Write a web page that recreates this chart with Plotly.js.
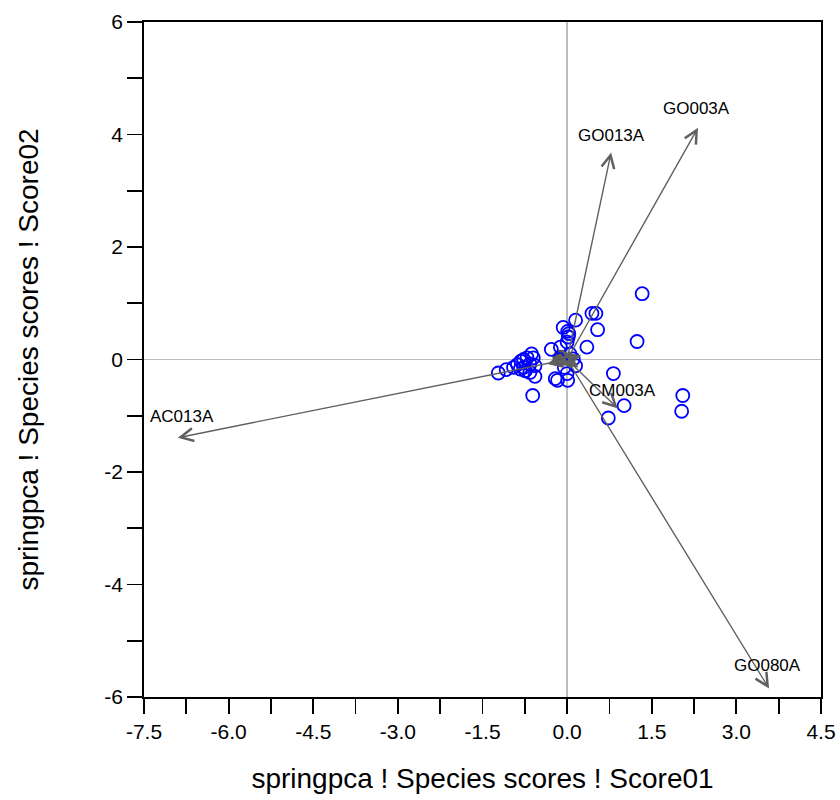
<!DOCTYPE html>
<html>
<head>
<meta charset="utf-8">
<script src="https://cdn.plot.ly/plotly-3.0.1.min.js"></script>
<style>html,body{margin:0;padding:0;background:#fff;}#chart{width:840px;height:800px;}</style>
</head>
<body>
<div id="chart"></div>
<script>
// Sample scores (Score01, Score02)
const sampleX = [1.33, 1.24, 0.44, 0.51, 0.54, 0.15, 0.35, -0.07, 0.01, 0.03, 0.02, 0.00,
  -0.28, -0.12, 0.15, 0.82, 1.01, 0.73, 2.05, 2.03, -0.61, -0.21, -0.17, 0.00, 0.01, -0.05,
  -1.22, -1.08, -0.95, -0.88, -0.82, -0.77, -0.71, -0.63, -0.60, -0.66, -0.77, -0.74, -0.66,
  -0.57, -0.83, -0.57, 0.11, 0.05];
const sampleY = [1.17, 0.32, 0.82, 0.82, 0.53, 0.70, 0.22, 0.57, 0.50, 0.46, 0.40, 0.31,
  0.18, 0.22, -0.11, -0.25, -0.82, -1.04, -0.64, -0.92, -0.64, -0.34, -0.37, -0.25, -0.37, -0.14,
  -0.24, -0.18, -0.14, -0.09, -0.03, 0.00, 0.03, 0.10, 0.03, -0.08, -0.14, -0.20, -0.23,
  -0.30, -0.17, -0.11, 0.01, 0.10];

// Species vectors (labelled)
const speciesNames = ["AC013A", "GO013A", "GO003A", "CM003A", "GO080A"];
const speciesX = [-6.90, 0.78, 2.32, 0.90, 3.58];
const speciesY = [-1.39, 3.68, 4.12, -0.87, -5.85];
const labelX = [-6.83, 0.79, 2.30, 0.99, 3.56];
const labelY = [-1.01, 3.98, 4.46, -0.55, -5.44];

// Short unlabelled species vectors near the origin
const minorX = [-0.35, 0.25, 0.20, -0.15, 0.05, 0.12];
const minorY = [-0.08, 0.07, -0.14, 0.05, 0.15, -0.05];

// Centre blob
const centreX = [-0.12];
const centreY = [0.03];

// Tick labels
const xTickVals = [-7.5, -6.0, -4.5, -3.0, -1.5, 0.0, 1.5, 3.0, 4.5];
const xTickText = ["-7.5", "-6.0", "-4.5", "-3.0", "-1.5", "0.0", "1.5", "3.0", "4.5"];
const yTickVals = [-6, -4, -2, 0, 2, 4, 6];
const yTickText = ["-6", "-4", "-2", "0", "2", "4", "6"];

const annotations = [];
function arrow(x, y) {
  annotations.push({
    x: x, y: y, ax: 0, ay: 0, xref: 'x', yref: 'y', axref: 'x', ayref: 'y',
    showarrow: true, arrowhead: 5, arrowsize: 1.8, arrowwidth: 1.4,
    arrowcolor: '#606060', text: ''
  });
}
speciesX.forEach((x, i) => arrow(x, speciesY[i]));
minorX.forEach((x, i) => arrow(x, minorY[i]));
const font = 'Liberation Sans, Arial, sans-serif';
speciesNames.forEach((n, i) => annotations.push({
  x: labelX[i], y: labelY[i], xref: 'x', yref: 'y', text: n, showarrow: false,
  font: {family: font, size: 17, color: '#000'}
}));

const traces = [
  {x: centreX, y: centreY, type: 'scatter', mode: 'markers',
   marker: {size: 16, color: '#555555'}, hoverinfo: 'skip', showlegend: false},
  {x: sampleX, y: sampleY, type: 'scatter', mode: 'markers',
   marker: {symbol: 'circle-open', size: 13, color: '#0000ff', line: {width: 1.8, color: '#0000ff'}},
   showlegend: false}
];

const layout = {
  width: 840, height: 800,
  margin: {l: 144, r: 19, t: 22, b: 103},
  paper_bgcolor: '#fff', plot_bgcolor: '#fff',
  font: {family: font, color: '#000'},
  showlegend: false,
  annotations: annotations,
  xaxis: {
    range: [-7.5, 4.5], tickmode: 'array', tickvals: xTickVals, ticktext: xTickText,
    ticks: 'outside', ticklen: 15, tickwidth: 1.8, tickcolor: '#000',
    minor: {tick0: -7.5, dtick: 0.75, ticks: 'outside', ticklen: 15, tickwidth: 1.8, tickcolor: '#000', showgrid: false},
    showgrid: false, zeroline: true, zerolinecolor: '#bdbdbd', zerolinewidth: 1.5,
    showline: true, linecolor: '#000', linewidth: 1.8, mirror: true,
    tickfont: {size: 21, family: font},
    title: {text: 'springpca ! Species scores ! Score01', font: {size: 28, family: font}, standoff: 26}
  },
  yaxis: {
    range: [-6, 6], tickmode: 'array', tickvals: yTickVals, ticktext: yTickText,
    ticks: 'outside', ticklen: 15, tickwidth: 1.8, tickcolor: '#000',
    minor: {tick0: -6, dtick: 1, ticks: 'outside', ticklen: 15, tickwidth: 1.8, tickcolor: '#000', showgrid: false},
    showgrid: false, zeroline: true, zerolinecolor: '#bdbdbd', zerolinewidth: 1.5,
    showline: true, linecolor: '#000', linewidth: 1.8, mirror: true,
    tickfont: {size: 21, family: font},
    title: {text: 'springpca ! Species scores ! Score02', font: {size: 28, family: font}, standoff: 57}
  }
};

Plotly.newPlot('chart', traces, layout, {staticPlot: true});
</script>
</body>
</html>
